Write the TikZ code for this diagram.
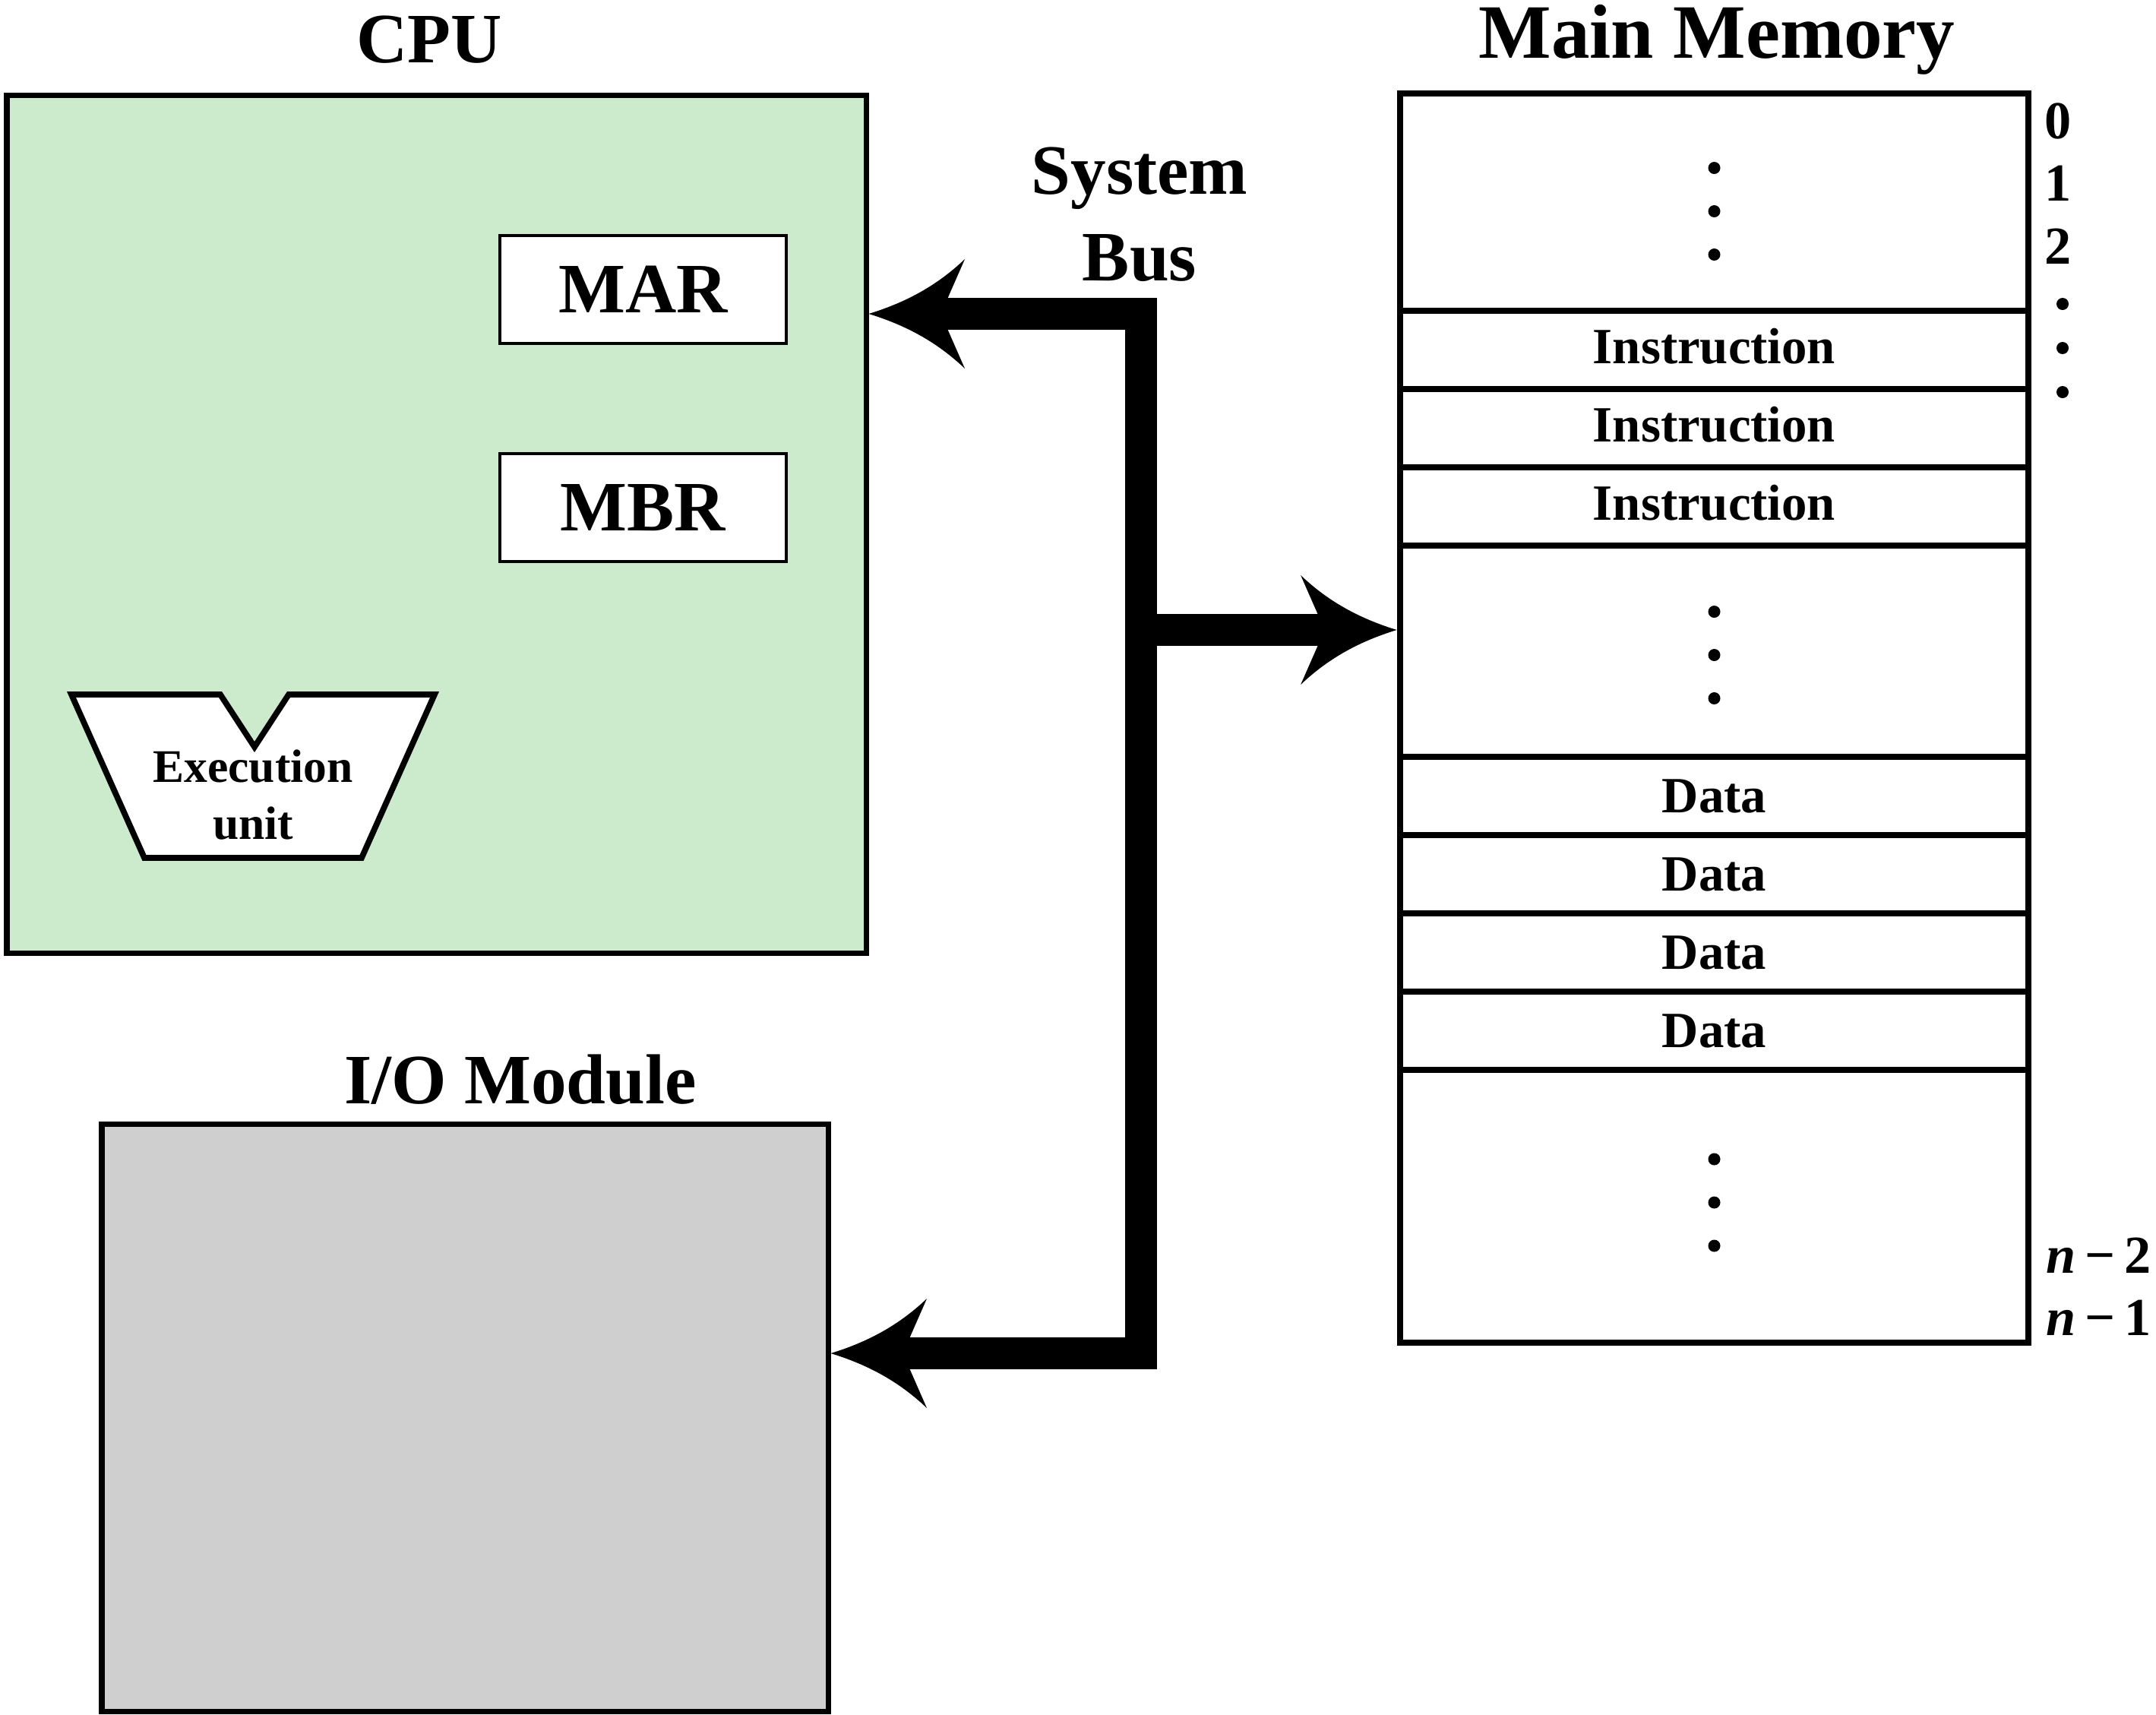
\documentclass[tikz,border=0pt]{standalone}
\usepackage{fontspec}
\setmainfont{Liberation Serif}
\usetikzlibrary{positioning,fit,arrows.meta}

\definecolor{cpugreen}{RGB}{204,235,204}
\definecolor{iogray}{RGB}{207,207,207}

% wide head of the bus arrows, concave sides
\pgfdeclarearrow{
  name = BusHead,
  setup code = {
    \pgfarrowssettipend{0pt}
    \pgfarrowssetlineend{-26pt}
    \pgfarrowssetbackend{-36pt}
    \pgfarrowsupperhullpoint{0pt}{0pt}
    \pgfarrowsupperhullpoint{-36pt}{20.5pt}
  },
  drawing code = {
    \pgfpathmoveto{\pgfqpoint{0pt}{0pt}}
    \pgfpathcurveto{\pgfqpoint{-13pt}{4pt}}{\pgfqpoint{-25pt}{10pt}}{\pgfqpoint{-36pt}{20.5pt}}
    \pgfpathlineto{\pgfqpoint{-27pt}{0pt}}
    \pgfpathlineto{\pgfqpoint{-36pt}{-20.5pt}}
    \pgfpathcurveto{\pgfqpoint{-25pt}{-10pt}}{\pgfqpoint{-13pt}{-4pt}}{\pgfqpoint{0pt}{0pt}}
    \pgfpathclose
    \pgfusepathqfill
  }
}

\begin{document}
\begin{tikzpicture}[
	title/.style = { anchor=base, font=\bfseries\fontsize{26.5}{32}\selectfont },
	unitbox/.style = { draw, line width=2pt, inner sep=0pt },
	reg/.style = { draw, fill=white, line width=1.2pt, minimum width=3.77cm,
			minimum height=1.42cm, font=\bfseries\fontsize{26.5}{32}\selectfont },
	memcell/.style = { draw, fill=white, line width=2.5pt, outer sep=0pt,
			inner sep=0pt, minimum width=8.27cm, minimum height=1.03cm,
			font=\bfseries\fontsize{19}{23}\selectfont },
	addr/.style = { font=\bfseries\fontsize{20}{24}\selectfont },
	bus/.style = { line width=12.2pt, line join=miter }]

  \useasboundingbox (0,0) rectangle (28.38,-22.56);

  % CPU
  \node[name=cpu, unitbox, fill=cpugreen, minimum width=11.31cm, minimum height=11.29cm]
    at (5.745,-6.895) {};
  \node[name=cputitle, title] at (5.65,-0.82) {CPU};
  \node[name=mar, reg] at (8.465,-3.81) {MAR};
  \node[name=mbr, reg, below=1.41cm of mar] {MBR};
  \draw[line width=2.2pt, fill=white] (0.94,-9.14) -- (2.90,-9.14) -- (3.35,-9.83)
    -- (3.80,-9.14) -- (5.72,-9.14) -- (4.76,-11.29) -- (1.90,-11.29) -- cycle;
  \node[name=exec, align=center, font=\bfseries\fontsize{17.5}{21.3}\selectfont]
    at (3.33,-10.46) {Execution\\unit};

  % I/O
  \node[name=io, unitbox, fill=iogray, minimum width=9.56cm, minimum height=7.73cm]
    at (6.12,-18.655) {};
  \node[name=iotitle, title] at (6.85,-14.52) {I/O Module};

  % main memory
  \node[name=memtitle, title, font=\bfseries\fontsize{28.8}{34}\selectfont]
    at (22.60,-0.76) {Main Memory};
  \node[name=mtop, memcell, minimum height=2.86cm] at (22.565,-2.66) {};
  \node[name=ins1, memcell, below=0pt of mtop] {\raisebox{0.1cm}{Instruction}};
  \node[name=ins2, memcell, below=0pt of ins1] {\raisebox{0.1cm}{Instruction}};
  \node[name=ins3, memcell, below=0pt of ins2] {\raisebox{0.1cm}{Instruction}};
  \node[name=mmid, memcell, minimum height=2.78cm, below=0pt of ins3] {};
  \node[name=dat1, memcell, below=0pt of mmid] {Data};
  \node[name=dat2, memcell, below=0pt of dat1] {Data};
  \node[name=dat3, memcell, below=0pt of dat2] {Data};
  \node[name=dat4, memcell, below=0pt of dat3] {Data};
  \node[name=mbot, memcell, minimum height=3.59cm, below=0pt of dat4] {};
  \node[name=mem, fit=(mtop)(mbot), inner sep=0pt, draw, line width=2.5pt] {};
  \foreach \c/\o in {mtop/-0.12,mmid/-0.05,mbot/0.05}
    \foreach \d in {-0.57,0,0.57}
      \fill ([yshift=\d cm+\o cm]\c.center) circle (0.08);

  % addresses
  \node[name=a0, addr] at (27.09,-1.59) {0};
  \node[name=a1, addr] at (27.09,-2.41) {1};
  \node[name=a2, addr] at (27.09,-3.24) {2};
  \foreach \y in {4.00,4.58,5.16}
    \fill (27.15,-\y) circle (0.08);
  \node[name=an2, addr, anchor=west, inner sep=0pt] at (26.93,-16.52) {{\itshape n}\,−\,2};
  \node[name=an1, addr, anchor=west, inner sep=0pt] at (26.93,-17.34) {{\itshape n}\,−\,1};

  % system bus
  \node[name=busname, align=center, font=\bfseries\fontsize{26.5}{32.4}\selectfont]
    at (15.00,-2.82) {System\\Bus};
  \coordinate (bustop) at (15.02,-4.13);
  \coordinate (busmid) at (15.02,-8.29);
  \coordinate (busbot) at (15.02,-17.81);
  \draw[bus, {BusHead}-{BusHead}] (cpu.east |- bustop) -- (bustop) -- (busbot)
    -- (io.east |- busbot);
  \draw[bus, -{BusHead}] (busmid) -- (mem.west |- busmid);
\end{tikzpicture}
\end{document}
